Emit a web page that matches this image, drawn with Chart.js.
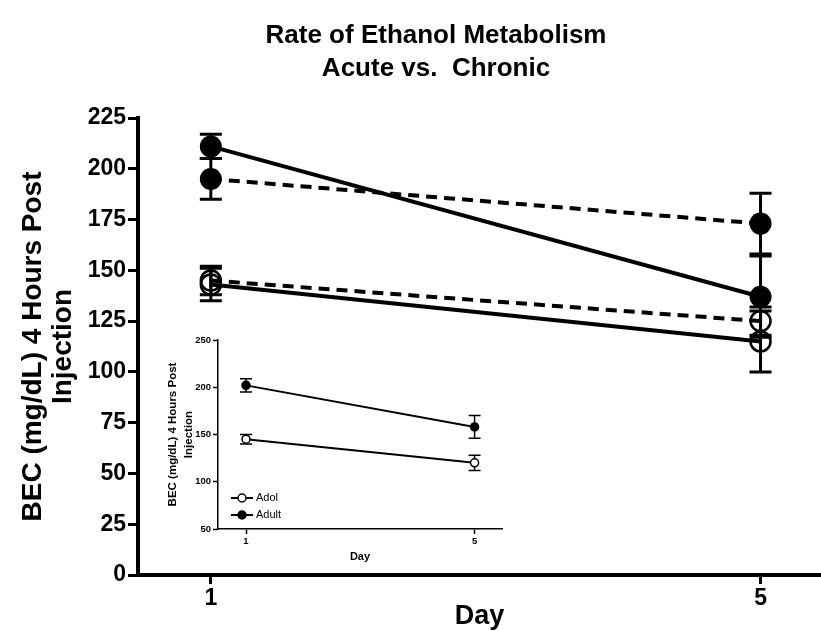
<!DOCTYPE html>
<html>
<head>
<meta charset="utf-8">
<script src="https://cdn.jsdelivr.net/npm/chart.js@4.4.0/dist/chart.umd.min.js"></script>
<style>
  body { margin: 0; background: #fff; }
  #wrap { position: relative; width: 821px; height: 631px; }
  #main { position: absolute; left: 0; top: 0; }
  #inset { position: absolute; left: 150px; top: 325px; }
</style>
</head>
<body>
<div id="wrap">
  <canvas id="main" width="821" height="631"></canvas>
  <canvas id="inset" width="360" height="250"></canvas>
</div>
<script>
// data
const days = [1, 5];
const titleLines = ["Rate of Ethanol Metabolism", "Acute vs.  Chronic"];
const yTitle = ["BEC (mg/dL) 4 Hours Post", "Injection"];
const xTitle = "Day";

const adultAcute = [211, 137];
const adultAcuteErr = [6, 20];
const adultChronic = [195, 173];
const adultChronicErr = [10, 15];
const adolAcute = [143, 115];
const adolAcuteErr = [8, 15];
const adolChronic = [145, 125];
const adolChronicErr = [7, 7];

const insetLabels = ["Adol", "Adult"];
const insetAdol = [145, 120];
const insetAdolErr = [5, 8];
const insetAdult = [202, 158];
const insetAdultErr = [7, 12];

Chart.defaults.font.family = "'Liberation Sans', Arial, sans-serif";
Chart.defaults.color = "#000";

function pts(values) {
  return days.map((d, i) => ({ x: d, y: values[i] }));
}

// error bars drawn through the y scale
const errorBars = {
  id: "errorBars",
  beforeDatasetsDraw(chart, args, opts) {
    const ctx = chart.ctx;
    const y = chart.scales.y;
    ctx.save();
    ctx.strokeStyle = "#000";
    ctx.lineWidth = opts.width;
    ctx.setLineDash([]);
    chart.data.datasets.forEach((ds, i) => {
      if (!ds.errors) return;
      chart.getDatasetMeta(i).data.forEach((pt, j) => {
        let v = ds.data[j].y, e = ds.errors[j];
        let top = y.getPixelForValue(v + e);
        let bot = y.getPixelForValue(v - e);
        let h = opts.cap / 2;
        ctx.beginPath();
        ctx.moveTo(pt.x, top); ctx.lineTo(pt.x, bot);
        ctx.moveTo(pt.x - h, top); ctx.lineTo(pt.x + h, top);
        ctx.moveTo(pt.x - h, bot); ctx.lineTo(pt.x + h, bot);
        ctx.stroke();
      });
    });
    ctx.restore();
  }
};

const mainTitle = {
  id: "mainTitle",
  afterDraw(chart, args, opts) {
    if (!opts.lines) return;
    const ctx = chart.ctx;
    ctx.save();
    ctx.fillStyle = "#000";
    ctx.font = "bold 26px 'Liberation Sans', Arial, sans-serif";
    ctx.textAlign = "center";
    ctx.textBaseline = "middle";
    opts.lines.forEach((t, i) => ctx.fillText(t, opts.x, opts.y + i * opts.gap));
    ctx.restore();
  }
};

const lineLegend = {
  id: "lineLegend",
  afterDraw(chart, args, opts) {
    if (!opts.show) return;
    const ctx = chart.ctx;
    ctx.save();
    ctx.font = "11px 'Liberation Sans', Arial, sans-serif";
    ctx.textBaseline = "middle";
    chart.data.datasets.forEach((ds, i) => {
      let y = opts.y + i * opts.gap;
      ctx.strokeStyle = "#000";
      ctx.lineWidth = 2;
      ctx.beginPath();
      ctx.moveTo(opts.x, y); ctx.lineTo(opts.x + 22, y);
      ctx.stroke();
      ctx.beginPath();
      ctx.arc(opts.x + 11, y, 4, 0, Math.PI * 2);
      ctx.fillStyle = ds.pointBackgroundColor;
      ctx.fill();
      ctx.lineWidth = 1.5;
      ctx.stroke();
      ctx.fillStyle = "#000";
      ctx.fillText(ds.label, opts.x + 25, y);
    });
    ctx.restore();
  }
};

function ds(label, values, errors, filled, dashed) {
  return {
    label: label,
    data: pts(values),
    errors: errors,
    borderColor: "#000",
    borderWidth: 4,
    borderDash: dashed ? [11, 7] : [],
    pointRadius: filled ? 11 : 10,
    pointBorderWidth: filled ? 0 : 2.5,
    pointBorderColor: "#000",
    pointBackgroundColor: filled ? "#000" : "rgba(0,0,0,0)",
    fill: false,
    tension: 0
  };
}

new Chart(document.getElementById("main"), {
  type: "line",
  data: {
    datasets: [
      ds("Adult Acute", adultAcute, adultAcuteErr, true, false),
      ds("Adult Chronic", adultChronic, adultChronicErr, true, true),
      ds("Adol Acute", adolAcute, adolAcuteErr, false, false),
      ds("Adol Chronic", adolChronic, adolChronicErr, false, true)
    ]
  },
  plugins: [errorBars, mainTitle],
  options: {
    responsive: false,
    animation: false,
    events: [],
    layout: { autoPadding: false, padding: { top: 118, right: 0, bottom: 0, left: 0 } },
    plugins: {
      legend: { display: false },
      tooltip: { enabled: false },
      errorBars: { width: 3, cap: 22 },
      mainTitle: { lines: titleLines, x: 436, y: 36, gap: 33 }
    },
    scales: {
      x: {
        type: "linear",
        min: 0.47,
        max: 5.44,
        afterBuildTicks: ax => { ax.ticks = days.map(v => ({ value: v })); },
        afterFit: ax => { ax.height = 56; ax.paddingLeft = 0; ax.paddingRight = 0; },
        border: { display: true, color: "#000", width: 4 },
        grid: { display: true, drawOnChartArea: false, drawTicks: true, tickLength: 9, tickWidth: 3, tickColor: "#000" },
        ticks: { font: { size: 23, weight: "bold" }, padding: 1, maxRotation: 0 },
        title: { display: true, text: xTitle, font: { size: 27, weight: "bold", lineHeight: 1.1 }, padding: { top: 0, bottom: 0 } }
      },
      y: {
        min: 0,
        max: 225,
        afterFit: ax => { ax.width = 138; },
        border: { display: true, color: "#000", width: 4 },
        grid: { display: true, drawOnChartArea: false, drawTicks: true, tickLength: 10, tickWidth: 3, tickColor: "#000" },
        ticks: { stepSize: 25, font: { size: 23, weight: "bold" }, padding: 2 },
        title: { display: true, text: yTitle, font: { size: 28, weight: "bold", lineHeight: 1.07 }, padding: { top: 18, bottom: 0 } }
      }
    }
  }
});

function insetDs(label, values, errors, filled) {
  return {
    label: label,
    data: pts(values),
    errors: errors,
    borderColor: "#000",
    borderWidth: 2,
    pointRadius: 4,
    pointBorderWidth: 1.5,
    pointBorderColor: "#000",
    pointBackgroundColor: filled ? "#000" : "#fff",
    fill: false,
    tension: 0
  };
}

new Chart(document.getElementById("inset"), {
  type: "line",
  data: {
    datasets: [
      insetDs(insetLabels[0], insetAdol, insetAdolErr, false),
      insetDs(insetLabels[1], insetAdult, insetAdultErr, true)
    ]
  },
  plugins: [errorBars, lineLegend],
  options: {
    responsive: false,
    animation: false,
    events: [],
    layout: { autoPadding: false, padding: { top: 15, right: 8, bottom: 0, left: 0 } },
    plugins: {
      legend: { display: false },
      tooltip: { enabled: false },
      errorBars: { width: 1.5, cap: 12 },
      lineLegend: { show: true, x: 81, y: 173, gap: 17 }
    },
    scales: {
      x: {
        type: "linear",
        min: 0.51,
        max: 5.48,
        afterBuildTicks: ax => { ax.ticks = days.map(v => ({ value: v })); },
        afterFit: ax => { ax.height = 46; ax.paddingLeft = 0; ax.paddingRight = 0; },
        border: { display: true, color: "#000", width: 1.5 },
        grid: { display: true, drawOnChartArea: false, drawTicks: true, tickLength: 5, tickWidth: 1.5, tickColor: "#000" },
        ticks: { font: { size: 9.5, weight: "bold" }, padding: 2, maxRotation: 0 },
        title: { display: true, text: xTitle, font: { size: 11, weight: "bold", lineHeight: 1.2 }, padding: { top: 0, bottom: 11 } }
      },
      y: {
        min: 50,
        max: 250,
        afterFit: ax => { ax.width = 68; },
        border: { display: true, color: "#000", width: 1.5 },
        grid: { display: true, drawOnChartArea: false, drawTicks: true, tickLength: 5, tickWidth: 1.5, tickColor: "#000" },
        ticks: { stepSize: 50, font: { size: 9.5, weight: "bold" }, padding: 2 },
        title: { display: true, text: yTitle, font: { size: 11.5, weight: "bold", lineHeight: 1.45 }, padding: { top: 14, bottom: 0 } }
      }
    }
  }
});
</script>
</body>
</html>
